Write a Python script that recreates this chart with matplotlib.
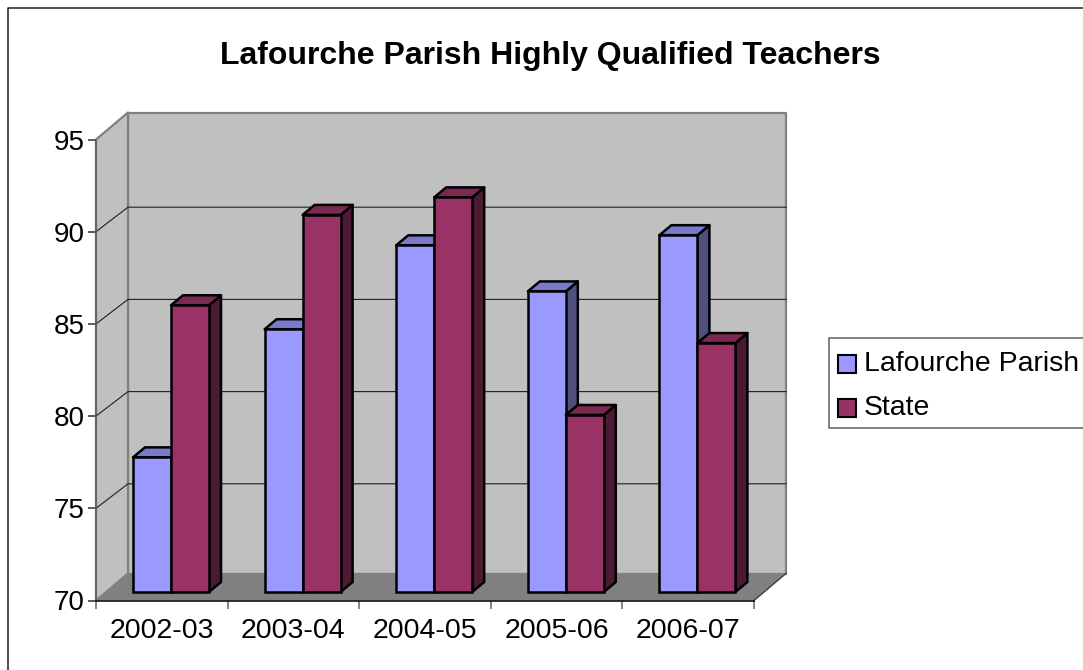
import matplotlib
matplotlib.use("Agg")
import matplotlib.pyplot as plt
from matplotlib.patches import Polygon, Rectangle
from matplotlib.lines import Line2D

categories = ["2002-03", "2003-04", "2004-05", "2005-06", "2006-07"]
lafourche = [77.3, 84.25, 88.8, 86.3, 89.35]
state = [85.55, 90.45, 91.4, 79.6, 83.5]
y_ticks = [70, 75, 80, 85, 90, 95]
series_names = ["Lafourche Parish", "State"]

plt.rcParams["font.family"] = ["Liberation Sans", "DejaVu Sans"]
W, H = 1083, 670
fig = plt.figure(figsize=(W / 100, H / 100), dpi=100, facecolor="white")

# frame (left/top only are visible in the reference)
fig.add_artist(Line2D([7.5 / W, 7.5 / W, 1], [0, 1 - 7.5 / H, 1 - 7.5 / H], color="#202020", lw=1.1))

L, R, T, B = 96, 754, 139.5, 600.5
ax = fig.add_axes([L / W, 1 - B / H, (R - L) / W, (B - T) / H])
ax.set_xlim(0, 5)
ax.set_ylim(70, 95)
px = 5 / (R - L)
py = 25 / (B - T)
ax.patch.set_alpha(0)

WX, WY = 32 * px, 27 * py       # wall depth
GY = 24.5 * py                  # gridline rise on the side wall
DX, DY = 12 * px, 10 * py       # bar depth
SY = 8.5 * py                   # bar baseline above floor front
OFF = 37 * px                   # bar inset in its slot
BW = 38 * px                    # bar width

def poly(pts, fc, ec="none", lw=0, z=1, **kw):
    ax.add_patch(Polygon(pts, closed=True, facecolor=fc, edgecolor=ec, linewidth=lw,
                         zorder=z, clip_on=False, joinstyle="round", **kw))

GREY = "#808080"
# back wall, side wall, floor
poly([(WX, 70 + WY), (5 + WX, 70 + WY), (5 + WX, 95 + WY), (WX, 95 + WY)], "#C0C0C0", GREY, 1.6)
poly([(0, 70), (WX, 70 + WY), (WX, 95 + WY), (0, 95)], "#C0C0C0", GREY, 1.6)
poly([(0, 70), (5, 70), (5 + WX, 70 + WY), (WX, 70 + WY)], GREY, z=1.5)
ax.plot([5, 5 + WX], [70, 70 + WY], color="#404040", lw=1, zorder=1.6, clip_on=False)

# gridlines on walls
for v in y_ticks[1:-1]:
    ax.plot([0, WX, 5 + WX], [v, v + GY, v + GY], color="#202020", lw=0.8, zorder=1.4, clip_on=False)

SHADES = {"#9999FF": ("#7A7ACC", "#4F4F80"), "#993366": ("#7A2952", "#4D1A33")}

def draw_bar(x, v, col, z):
    top, side = SHADES[col]
    b = 70 + SY
    t = v + SY
    poly([(x + BW, b), (x + BW + DX, b + DY), (x + BW + DX, t + DY), (x + BW, t)], side, "black", 1.8, z)
    poly([(x, t), (x + DX, t + DY), (x + BW + DX, t + DY), (x + BW, t)], top, "black", 1.8, z)
    ax.bar(x, v - 70, BW, bottom=b, align="edge", color=col, edgecolor="black", linewidth=1.8,
           zorder=z + 0.1, clip_on=False)

for i in range(len(categories)):
    draw_bar(i + OFF, lafourche[i], "#9999FF", 3 + i)
    draw_bar(i + OFF + BW, state[i], "#993366", 3.5 + i)

# axes
for s in ("top", "right"):
    ax.spines[s].set_visible(False)
ax.spines["left"].set_color("#606060")
ax.spines["bottom"].set_color("#101010")
ax.spines["left"].set_linewidth(1.2)
ax.spines["bottom"].set_linewidth(1.2)
ax.set_yticks(y_ticks)
ax.set_yticklabels([str(v) for v in y_ticks], fontsize=20)
ax.set_xticks(range(len(categories) + 1))
ax.set_xticklabels([])
ax.set_xticks([i + 0.5 for i in range(len(categories))], minor=True)
ax.set_xticklabels(categories, minor=True, fontsize=20.5)
ax.tick_params(axis="x", which="major", length=6, width=1.2, color="#707070")
ax.tick_params(axis="x", which="minor", length=0, pad=12.5)
ax.tick_params(axis="y", length=6, width=1.2, color="#404040", pad=2)

fig.text(550 / W, 1 - 56 / H, "Lafourche Parish Highly Qualified Teachers",
         fontsize=23, fontweight="bold", ha="center", va="center")

# legend
fig.add_artist(Rectangle((828.5 / W, 1 - 428 / H), 260 / W, 90 / H, transform=fig.transFigure,
                         facecolor="white", edgecolor="#606060", linewidth=1.1))
for name, col, yc in zip(series_names, ["#9999FF", "#993366"], [363.5, 407.5]):
    fig.add_artist(Rectangle((837.5 / W, 1 - (yc + 9) / H), 18 / W, 18 / H, transform=fig.transFigure,
                             facecolor=col, edgecolor="black", linewidth=1.5))
    fig.text(864 / W, 1 - (yc + 0.5) / H, name, fontsize=20.4, ha="left", va="center")

fig.savefig("out.png", dpi=100)
